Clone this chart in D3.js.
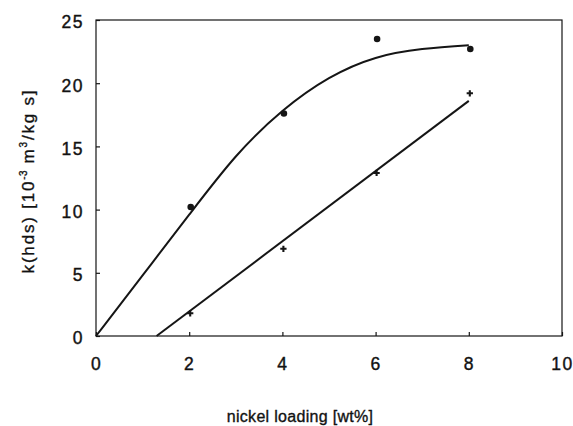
<!DOCTYPE html>
<html>
<head>
<meta charset="utf-8">
<script src="https://cdn.jsdelivr.net/npm/d3@7"></script>
<style>
  html, body { margin: 0; padding: 0; background: #fff; }
  svg { display: block; }
  text { font-family: "Liberation Sans", Arial, Helvetica, sans-serif; fill: #111; }
</style>
</head>
<body>
<svg id="chart" width="573" height="426"></svg>
<script>
// Measured rate constants versus nickel loading
const loadings = [2, 4, 6, 8];
const kCircles = [10.2, 17.6, 23.5, 22.7];
const kCrosses = [1.8, 6.9, 12.9, 19.2];

// Fitted trend lines through each series
const fitCircleX = [0, 1, 2, 3, 4, 5, 6, 7, 8];
const fitCircleY = [0, 4.8, 9.6, 14.2, 17.8, 20.4, 22.0, 22.7, 23.0];
const fitCrossX = [1.3, 8];
const fitCrossY = [0, 18.6];

const xTicks = [0, 2, 4, 6, 8, 10];
const yTicks = [0, 5, 10, 15, 20, 25];

const svg = d3.select("#chart");
svg.append("rect").attr("width", 573).attr("height", 426).attr("fill", "#fff");

const x = d3.scaleLinear().domain([0, 10]).range([96, 562]);
const y = d3.scaleLinear().domain([0, 25]).range([336, 20]);

const ink = "#151515";

// Frame
svg.append("rect")
  .attr("x", x(0)).attr("y", y(25))
  .attr("width", x(10) - x(0)).attr("height", y(0) - y(25))
  .attr("fill", "none").attr("stroke", ink).attr("stroke-width", 1.2);

// Axes with inward ticks
const xAxis = svg.append("g")
  .attr("transform", `translate(0,${y(0)})`)
  .call(d3.axisBottom(x).tickValues(xTicks).tickSize(-4).tickSizeOuter(0).tickPadding(22).tickFormat(d3.format("d")));
const yAxis = svg.append("g")
  .attr("transform", `translate(${x(0)},0)`)
  .call(d3.axisLeft(y).tickValues(yTicks).tickSize(-4).tickSizeOuter(0).tickPadding(12).tickFormat(d3.format("d")));

[xAxis, yAxis].forEach(g => {
  g.select(".domain").remove();
  g.selectAll(".tick line").attr("stroke", ink).attr("stroke-width", 1.2);
  g.selectAll(".tick text")
    .attr("fill", ink)
    .attr("stroke", ink).attr("stroke-width", 0.4)
    .style("font-family", "'Liberation Sans', Arial, sans-serif")
    .style("font-size", "17.5px")
    .style("letter-spacing", "1.5px");
});
yAxis.selectAll(".tick text").attr("dy", "0.45em");

// Trend lines
svg.append("path")
  .datum(fitCircleX.map((v, i) => [v, fitCircleY[i]]))
  .attr("d", d3.line().x(d => x(d[0])).y(d => y(d[1])).curve(d3.curveNatural))
  .attr("fill", "none").attr("stroke", ink).attr("stroke-width", 2);
svg.append("path")
  .datum(fitCrossX.map((v, i) => [v, fitCrossY[i]]))
  .attr("d", d3.line().x(d => x(d[0])).y(d => y(d[1])))
  .attr("fill", "none").attr("stroke", ink).attr("stroke-width", 2);

// Circle markers
svg.append("g").selectAll("circle")
  .data(loadings.map((v, i) => [v, kCircles[i]]))
  .join("circle")
  .attr("cx", d => x(d[0]) + 1.5).attr("cy", d => y(d[1]))
  .attr("r", 3.3).attr("fill", ink);

// Cross markers
const cross = d3.symbol().type(d3.symbolCross).size(22);
svg.append("g").selectAll("path")
  .data(loadings.map((v, i) => [v, kCrosses[i]]))
  .join("path")
  .attr("transform", d => `translate(${x(d[0]) + 1},${y(d[1])})`)
  .attr("d", cross)
  .attr("fill", ink);

// Axis titles
svg.append("text")
  .attr("x", 300).attr("y", 422)
  .attr("text-anchor", "middle")
  .attr("stroke", ink).attr("stroke-width", 0.35)
  .style("font-size", "16px")
  .style("letter-spacing", "0.3px")
  .text("nickel loading [wt%]");

const yTitle = svg.append("text")
  .attr("transform", "translate(34,181) rotate(-90)")
  .attr("text-anchor", "middle")
  .attr("stroke", ink).attr("stroke-width", 0.35)
  .style("font-size", "17px")
  .style("letter-spacing", "1.8px");
yTitle.append("tspan").text("k(hds) [10");
yTitle.append("tspan").attr("dy", -7).style("font-size", "10px").style("letter-spacing", "0.5px").text("-3");
yTitle.append("tspan").attr("dy", 7).text("  m");
yTitle.append("tspan").attr("dy", -7).style("font-size", "10px").text("3");
yTitle.append("tspan").attr("dy", 7).text("/kg s]");
</script>
</body>
</html>
